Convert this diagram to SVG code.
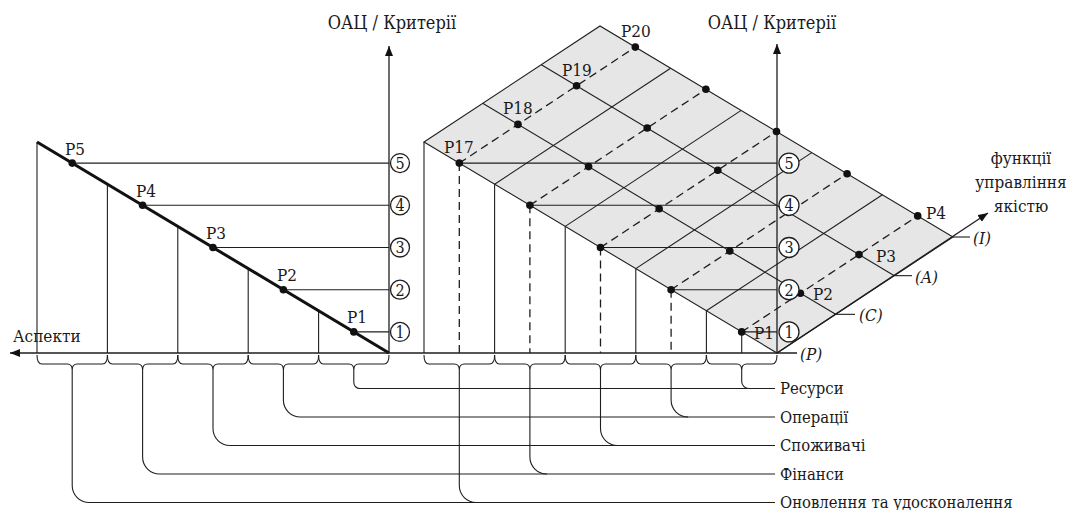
<svg xmlns="http://www.w3.org/2000/svg" width="1073" height="510" viewBox="0 0 1073 510">
  <style>
    .ln { stroke: #1e1e1e; stroke-width: 1.1; fill: none; }
    .ax { stroke: #1e1e1e; stroke-width: 1.3; fill: none; }
    .thick { stroke: #111; stroke-width: 3; fill: none; }
    .dash { stroke: #1e1e1e; stroke-width: 1.3; fill: none; stroke-dasharray: 8 5; }
    .dot { fill: #111; }
    .num { fill: #fff; stroke: #1e1e1e; stroke-width: 1.3; }
    text { font-family: "DejaVu Serif Condensed", "DejaVu Serif", serif; font-stretch: condensed; fill: #1a1a1a; font-size: 17px; }
    .it { font-style: italic; }
    .mid { text-anchor: middle; }
    .lab { font-size: 16.5px; }
    .ttl { font-size: 18px; }
    .dig { font-size: 16px; text-anchor: middle; }
    .surf { fill: #e6e6e6; stroke: #1e1e1e; stroke-width: 1.1; }
  </style>
  <defs>
    <marker id="arrow" markerUnits="userSpaceOnUse" markerWidth="11" markerHeight="9" refX="10" refY="4" orient="auto">
      <path d="M0,0 L10,4 L0,8 Z" fill="#111"/>
    </marker>
  </defs>

  <!-- left projection: aspects vs. criteria -->
  <g id="left-chart">
    <line class="ax" x1="389" y1="353" x2="389" y2="46" marker-end="url(#arrow)"/>
    <line class="ln" x1="37" y1="142" x2="37" y2="353"/>
    <line class="ln" x1="107.4" y1="184.2" x2="107.4" y2="353"/>
    <line class="ln" x1="177.8" y1="226.4" x2="177.8" y2="353"/>
    <line class="ln" x1="248.2" y1="268.6" x2="248.2" y2="353"/>
    <line class="ln" x1="318.6" y1="310.8" x2="318.6" y2="353"/>
    <line class="ln" x1="72.2" y1="163.1" x2="389" y2="163.1"/>
    <line class="ln" x1="142.6" y1="205.3" x2="389" y2="205.3"/>
    <line class="ln" x1="213" y1="247.5" x2="389" y2="247.5"/>
    <line class="ln" x1="283.4" y1="289.7" x2="389" y2="289.7"/>
    <line class="ln" x1="353.8" y1="331.9" x2="389" y2="331.9"/>
    <line class="thick" x1="37" y1="142" x2="389" y2="353"/>
  </g>
  <g id="left-points">
    <circle class="dot" cx="72.2" cy="163.1" r="3.8"/>
    <circle class="dot" cx="142.6" cy="205.3" r="3.8"/>
    <circle class="dot" cx="213" cy="247.5" r="3.8"/>
    <circle class="dot" cx="283.4" cy="289.7" r="3.8"/>
    <circle class="dot" cx="353.8" cy="331.9" r="3.8"/>
    <text x="65" y="155">P5</text>
    <text x="136" y="197">P4</text>
    <text x="206" y="239">P3</text>
    <text x="277" y="281">P2</text>
    <text x="347" y="323">P1</text>
  </g>
  <g id="left-levels">
    <circle class="num" cx="400" cy="163.1" r="9.5"/>
    <circle class="num" cx="400" cy="205.3" r="9.5"/>
    <circle class="num" cx="400" cy="247.5" r="9.5"/>
    <circle class="num" cx="400" cy="289.7" r="9.5"/>
    <circle class="num" cx="400" cy="331.9" r="9.5"/>
    <text class="dig" x="400" y="168.9">5</text>
    <text class="dig" x="400" y="211.1">4</text>
    <text class="dig" x="400" y="253.3">3</text>
    <text class="dig" x="400" y="295.5">2</text>
    <text class="dig" x="400" y="337.7">1</text>
  </g>

  <!-- right projection: aspects x functions surface -->
  <g id="surface">
    <polygon class="surf" points="424,142 777,353 953,237 600,26"/>
    <line class="ln" x1="494.6" y1="184.2" x2="670.6" y2="68.2"/>
    <line class="ln" x1="565.2" y1="226.4" x2="741.2" y2="110.4"/>
    <line class="ln" x1="635.8" y1="268.6" x2="811.8" y2="152.6"/>
    <line class="ln" x1="706.4" y1="310.8" x2="882.4" y2="194.8"/>
    <line class="ln" x1="482.67" y1="103.33" x2="835.67" y2="314.33"/>
    <line class="ln" x1="541.33" y1="64.67" x2="894.33" y2="275.67"/>
  </g>
  <g id="right-walls">
    <line class="ln" x1="424" y1="142" x2="424" y2="353"/>
    <line class="ln" x1="494.6" y1="184.2" x2="494.6" y2="353"/>
    <line class="ln" x1="565.2" y1="226.4" x2="565.2" y2="353"/>
    <line class="ln" x1="635.8" y1="268.6" x2="635.8" y2="353"/>
    <line class="ln" x1="706.4" y1="310.8" x2="706.4" y2="353"/>
    <line class="dash" x1="459.3" y1="163.1" x2="459.3" y2="353"/>
    <line class="dash" x1="529.9" y1="205.3" x2="529.9" y2="353"/>
    <line class="dash" x1="600.5" y1="247.5" x2="600.5" y2="353"/>
    <line class="dash" x1="671.1" y1="289.7" x2="671.1" y2="353"/>
    <line class="ln" x1="741.7" y1="331.9" x2="741.7" y2="353"/>
  </g>
  <g id="right-rows">
    <line class="ln" x1="459.3" y1="163.1" x2="777" y2="163.1"/>
    <line class="ln" x1="529.9" y1="205.3" x2="777" y2="205.3"/>
    <line class="ln" x1="600.5" y1="247.5" x2="777" y2="247.5"/>
    <line class="ln" x1="671.1" y1="289.7" x2="777" y2="289.7"/>
    <line class="ln" x1="741.7" y1="331.9" x2="777" y2="331.9"/>
    <line class="dash" x1="459.3" y1="163.1" x2="635.3" y2="47.1"/>
    <line class="dash" x1="529.9" y1="205.3" x2="705.9" y2="89.3"/>
    <line class="dash" x1="600.5" y1="247.5" x2="776.5" y2="131.5"/>
    <line class="dash" x1="671.1" y1="289.7" x2="847.1" y2="173.7"/>
    <line class="dash" x1="741.7" y1="331.9" x2="917.7" y2="215.9"/>
  </g>
  <g id="right-axes">
    <line class="ax" x1="777" y1="353" x2="777" y2="44" marker-end="url(#arrow)"/>
    <line class="ax" x1="777" y1="353" x2="988" y2="213" marker-end="url(#arrow)"/>
    <line class="ln" x1="835.67" y1="314.33" x2="855" y2="314.33"/>
    <line class="ln" x1="894.33" y1="275.67" x2="912" y2="275.67"/>
    <line class="ln" x1="953" y1="237" x2="970" y2="237"/>
    <text class="it" x="800" y="360">(P)</text>
    <text class="it" x="859" y="321">(C)</text>
    <text class="it" x="915" y="283">(A)</text>
    <text class="it" x="973" y="244">(I)</text>
  </g>
  <g id="right-points">
    <circle class="dot" cx="459.3" cy="163.1" r="3.8"/>
    <circle class="dot" cx="518" cy="124.4" r="3.8"/>
    <circle class="dot" cx="576.6" cy="85.8" r="3.8"/>
    <circle class="dot" cx="635.3" cy="47.1" r="3.8"/>
    <circle class="dot" cx="529.9" cy="205.3" r="3.8"/>
    <circle class="dot" cx="588.6" cy="166.6" r="3.8"/>
    <circle class="dot" cx="647.2" cy="128" r="3.8"/>
    <circle class="dot" cx="705.9" cy="89.3" r="3.8"/>
    <circle class="dot" cx="600.5" cy="247.5" r="3.8"/>
    <circle class="dot" cx="659.2" cy="208.8" r="3.8"/>
    <circle class="dot" cx="717.8" cy="170.2" r="3.8"/>
    <circle class="dot" cx="776.5" cy="131.5" r="3.8"/>
    <circle class="dot" cx="671.1" cy="289.7" r="3.8"/>
    <circle class="dot" cx="729.8" cy="251" r="3.8"/>
    <circle class="dot" cx="788.4" cy="212.4" r="3.8"/>
    <circle class="dot" cx="847.1" cy="173.7" r="3.8"/>
    <circle class="dot" cx="741.7" cy="331.9" r="3.8"/>
    <circle class="dot" cx="800.4" cy="293.2" r="3.8"/>
    <circle class="dot" cx="859" cy="254.6" r="3.8"/>
    <circle class="dot" cx="917.7" cy="215.9" r="3.8"/>
    <text x="444" y="153">P17</text>
    <text x="503" y="114">P18</text>
    <text x="562" y="76">P19</text>
    <text x="621" y="37">P20</text>
    <text x="754" y="339">P1</text>
    <text x="813" y="300">P2</text>
    <text x="876" y="262">P3</text>
    <text x="926" y="219">P4</text>
  </g>
  <g id="right-levels">
    <circle class="num" cx="789" cy="163.1" r="10"/>
    <circle class="num" cx="789" cy="205.3" r="10"/>
    <circle class="num" cx="789" cy="247.5" r="10"/>
    <circle class="num" cx="789" cy="289.7" r="10"/>
    <circle class="num" cx="789" cy="331.9" r="10"/>
    <text class="dig" x="789" y="168.9">5</text>
    <text class="dig" x="789" y="211.1">4</text>
    <text class="dig" x="789" y="253.3">3</text>
    <text class="dig" x="789" y="295.5">2</text>
    <text class="dig" x="789" y="337.7">1</text>
  </g>

  <!-- shared aspect axis, braces and leaders -->
  <g id="connectors">
    <line class="ax" x1="797" y1="353" x2="10" y2="353" marker-end="url(#arrow)"/>
    <path class="ln" d="M37,355 Q37,364 42,364 H67.2 Q72.2,364 72.2,370 Q72.2,364 77.2,364 H102.4 Q107.4,364 107.4,355"/>
    <path class="ln" d="M107.4,355 Q107.4,364 112.4,364 H137.6 Q142.6,364 142.6,370 Q142.6,364 147.6,364 H172.8 Q177.8,364 177.8,355"/>
    <path class="ln" d="M177.8,355 Q177.8,364 182.8,364 H208 Q213,364 213,370 Q213,364 218,364 H243.2 Q248.2,364 248.2,355"/>
    <path class="ln" d="M248.2,355 Q248.2,364 253.2,364 H278.4 Q283.4,364 283.4,370 Q283.4,364 288.4,364 H313.6 Q318.6,364 318.6,355"/>
    <path class="ln" d="M318.6,355 Q318.6,364 323.6,364 H348.8 Q353.8,364 353.8,370 Q353.8,364 358.8,364 H384 Q389,364 389,355"/>
    <path class="ln" d="M424,355 Q424,364 429,364 H454.3 Q459.3,364 459.3,370 Q459.3,364 464.3,364 H489.6 Q494.6,364 494.6,355"/>
    <path class="ln" d="M494.6,355 Q494.6,364 499.6,364 H524.9 Q529.9,364 529.9,370 Q529.9,364 534.9,364 H560.2 Q565.2,364 565.2,355"/>
    <path class="ln" d="M565.2,355 Q565.2,364 570.2,364 H595.5 Q600.5,364 600.5,370 Q600.5,364 605.5,364 H630.8 Q635.8,364 635.8,355"/>
    <path class="ln" d="M635.8,355 Q635.8,364 640.8,364 H666.1 Q671.1,364 671.1,370 Q671.1,364 676.1,364 H701.4 Q706.4,364 706.4,355"/>
    <path class="ln" d="M706.4,355 Q706.4,364 711.4,364 H736.7 Q741.7,364 741.7,370 Q741.7,364 746.7,364 H772 Q777,364 777,355"/>

    <path class="ln" d="M353.8,370 V382.5 A6,6 0 0 0 359.8,388.5 H775"/>
    <path class="ln" d="M283.4,370 V400 A17,17 0 0 0 300.4,417 H775"/>
    <path class="ln" d="M213,370 V428.5 A17,17 0 0 0 230,445.5 H775"/>
    <path class="ln" d="M142.6,370 V457 A17,17 0 0 0 159.6,474 H775"/>
    <path class="ln" d="M72.2,370 V485.5 A17,17 0 0 0 89.2,502.5 H775"/>
    <path class="ln" d="M741.7,370 V381.5 A7,7 0 0 0 748.7,388.5"/>
    <path class="ln" d="M671.1,370 V400 A17,17 0 0 0 688.1,417"/>
    <path class="ln" d="M600.5,370 V428.5 A17,17 0 0 0 617.5,445.5"/>
    <path class="ln" d="M529.9,370 V457 A17,17 0 0 0 546.9,474"/>
    <path class="ln" d="M459.3,370 V485.5 A17,17 0 0 0 476.3,502.5"/>
  </g>

  <g id="titles">
    <text class="mid ttl" x="392" y="29">ОАЦ / Критерії</text>
    <text class="mid ttl" x="772" y="29">ОАЦ / Критерії</text>
    <text x="13" y="342">Аспекти</text>
    <text class="mid" x="1021" y="164">функції</text>
    <text class="mid" x="1021" y="188">управління</text>
    <text class="mid" x="1021" y="212">якістю</text>
  </g>
  <g id="aspect-labels">
    <text class="lab" x="780" y="394">Ресурси</text>
    <text class="lab" x="780" y="422.5">Операції</text>
    <text class="lab" x="780" y="451">Споживачі</text>
    <text class="lab" x="780" y="479.5">Фінанси</text>
    <text class="lab" x="780" y="508">Оновлення та удосконалення</text>
  </g>
</svg>
